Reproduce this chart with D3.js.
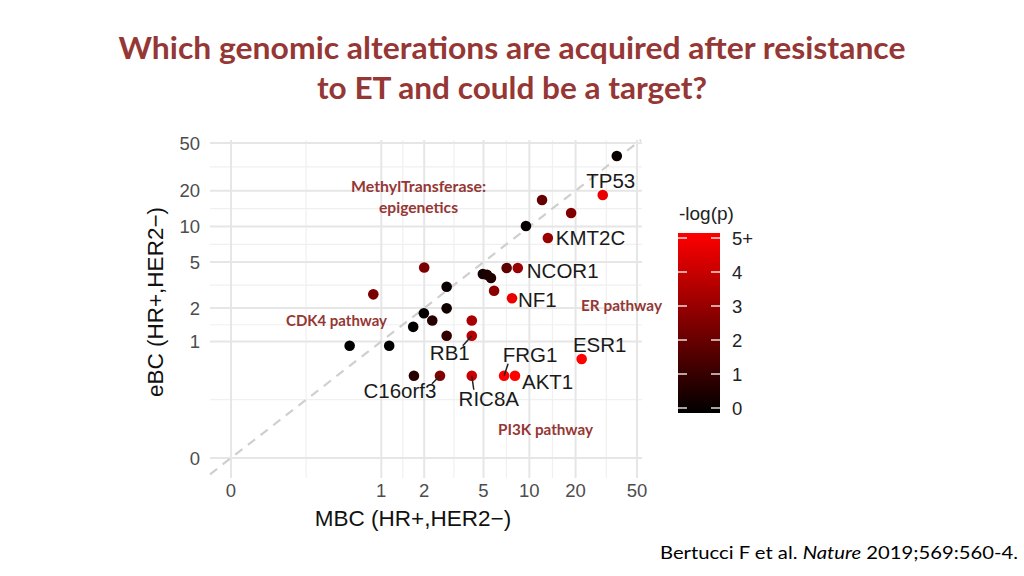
<!DOCTYPE html>
<html><head><meta charset="utf-8">
<script src="https://cdn.jsdelivr.net/npm/d3@7"></script>
<style>body{margin:0;background:#fff}</style>
</head><body>
<svg id="c" width="1024" height="576"></svg>
<script>
// ---------- data ----------
const genes = ["", "TP53", "", "", "", "KMT2C", "", "", "NCOR1", "", "", "", "", "", "NF1", "", "", "", "", "", "", "", "RB1", "", "", "ESR1", "", "C16orf3", "RIC8A", "FRG1", "AKT1"];
const mbc  = [37, 30, 12.1, 18.7, 9.5, 13.2, 2.0, 7.1, 8.4, 4.95, 5.27, 5.6, 2.84, 5.87, 7.7, 0.875, 2.84, 1.99, 2.27, 4.18, 1.68, 2.84, 4.18, 0.58, 1.14, 21.9, 1.70, 2.56, 4.18, 6.83, 8.05];
const ebc  = [39, 18.4, 16.7, 13.0, 10.1, 8.0, 4.5, 4.45, 4.45, 3.95, 3.9, 3.65, 3.07, 2.84, 2.44, 2.64, 1.99, 1.80, 1.55, 1.55, 1.36, 1.13, 1.13, 0.91, 0.91, 0.68, 0.46, 0.46, 0.46, 0.46, 0.46];
const logp = [0.2, 4.6, 2.0, 2.5, 0.15, 3.0, 2.4, 1.8, 3.0, 0.4, 0.5, 0.6, 0.2, 2.7, 4.6, 2.4, 0.3, 0.1, 0.8, 3.3, 0.05, 1.0, 3.6, 0, 0, 5, 0.8, 2.6, 4.0, 5, 5];
const axisTicks = [0, 1, 2, 5, 10, 20, 50];
const legendTicks = [0, 1, 2, 3, 4, 5];
const legendTickLabels = ["0", "1", "2", "3", "4", "5+"];
const titleLines = ["Which genomic alterations are acquired after resistance", "to ET and could be a target?"];
const annotations = ["MethylTransferase:", "epigenetics", "CDK4 pathway", "ER pathway", "PI3K pathway"];

// ---------- layout ----------
const svg = d3.select("#c");
const panel = {left: 210, right: 642, top: 140, bottom: 478};
const x = d3.scaleSymlog().constant(0.12).domain([0, 50]).range([231, 637]);
const y = d3.scaleSymlog().constant(0.12).domain([0, 50]).range([458, 143]);
const color = v => d3.interpolateRgb("#000000", "#ff0000")(Math.min(v, 5) / 5);

const titleColor = "#953735";
const annFont = "Lato, 'Open Sans', sans-serif";

function fitWidth(sel, w) {
  const fs = parseFloat(sel.attr("font-size"));
  const cur = sel.node().getComputedTextLength();
  sel.attr("font-size", fs * w / cur);
}

// Title (condensed to the reference width)
const titleSpec = [{cy: 59, w: 787}, {cy: 99, w: 390}];
titleLines.forEach((t, i) => {
  svg.append("text").attr("x", 512).attr("y", titleSpec[i].cy)
    .attr("text-anchor", "middle").attr("font-family", annFont).attr("font-weight", "bold")
    .attr("font-size", 30).attr("fill", titleColor)
    .attr("textLength", titleSpec[i].w).attr("lengthAdjust", "spacingAndGlyphs").text(t);
});

// grid
const g = svg.append("g");
const minor = [];
for (let i = 0; i < axisTicks.length - 1; i++) minor.push((x(axisTicks[i]) + x(axisTicks[i + 1])) / 2);
const minorY = [];
for (let i = 0; i < axisTicks.length - 1; i++) minorY.push((y(axisTicks[i]) + y(axisTicks[i + 1])) / 2);
g.selectAll(".mx").data(minor).join("line").attr("x1", d => d).attr("x2", d => d)
  .attr("y1", panel.top).attr("y2", panel.bottom).attr("stroke", "#f0f0f0").attr("stroke-width", 1.2);
g.selectAll(".my").data(minorY).join("line").attr("y1", d => d).attr("y2", d => d)
  .attr("x1", panel.left).attr("x2", panel.right).attr("stroke", "#f0f0f0").attr("stroke-width", 1.2);
g.selectAll(".gx").data(axisTicks).join("line").attr("x1", d => x(d)).attr("x2", d => x(d))
  .attr("y1", panel.top).attr("y2", panel.bottom).attr("stroke", "#e6e6e6").attr("stroke-width", 2);
g.selectAll(".gy").data(axisTicks).join("line").attr("y1", d => y(d)).attr("y2", d => y(d))
  .attr("x1", panel.left).attr("x2", panel.right).attr("stroke", "#e6e6e6").attr("stroke-width", 2);

// diagonal y = x
const dStart = Math.max(x.invert(panel.left), y.invert(panel.bottom));
const dEnd = Math.min(x.invert(panel.right), y.invert(panel.top));
svg.append("line").attr("x1", x(dStart)).attr("y1", y(dStart)).attr("x2", x(dEnd)).attr("y2", y(dEnd))
  .attr("stroke", "#cfcfcf").attr("stroke-width", 2.2).attr("stroke-dasharray", "9,7");

// axes tick labels
const tickFont = "'Liberation Sans', Arial, sans-serif";
svg.selectAll(".xt").data(axisTicks).join("text").attr("x", d => x(d)).attr("y", 497)
  .attr("text-anchor", "middle").attr("font-family", tickFont).attr("font-size", 18.5)
  .attr("fill", "#4d4d4d").text(d => d);
svg.selectAll(".yt").data(axisTicks).join("text").attr("x", 200).attr("y", d => y(d) + 6.5)
  .attr("text-anchor", "end").attr("font-family", tickFont).attr("font-size", 18.5)
  .attr("fill", "#4d4d4d").text(d => d);

// axis titles
svg.append("text").attr("x", 413).attr("y", 526).attr("text-anchor", "middle")
  .attr("font-family", tickFont).attr("font-size", 22.5).attr("fill", "#111").text("MBC (HR+,HER2\u2212)");
svg.append("text").attr("transform", "translate(163,302) rotate(-90)").attr("text-anchor", "middle")
  .attr("font-family", tickFont).attr("font-size", 22.5).attr("fill", "#111").text("eBC (HR+,HER2\u2212)");

// points
const pts = genes.map((gname, i) => ({gene: gname, x: mbc[i], y: ebc[i], p: logp[i]}));
svg.append("g").selectAll("circle").data(pts).join("circle")
  .attr("cx", d => x(d.x)).attr("cy", d => y(d.y)).attr("r", 5.3)
  .attr("fill", d => color(d.p));

// gene labels
const labelLayout = {
  TP53: {dx: 8, dy: -14, anchor: "middle"},
  KMT2C: {dx: 8, dy: 0, anchor: "start"},
  NCOR1: {dx: 9, dy: 3, anchor: "start"},
  NF1: {dx: 6, dy: 2, anchor: "start"},
  RB1: {dx: -22, dy: 17, anchor: "middle", lx: -9, ly: 10},
  FRG1: {dx: 26, dy: -21, anchor: "middle", lx: 4, ly: -12},
  ESR1: {dx: 18, dy: -14, anchor: "middle"},
  AKT1: {dx: 7, dy: 6, anchor: "start"},
  C16orf3: {dx: -40, dy: 15, anchor: "middle", lx: -8, ly: 8},
  RIC8A: {dx: 17, dy: 23, anchor: "middle", lx: 2, ly: 14}
};
const lab = pts.filter(d => d.gene);
svg.append("g").selectAll("line").data(lab.filter(d => labelLayout[d.gene].lx !== undefined)).join("line")
  .attr("x1", d => x(d.x)).attr("y1", d => y(d.y))
  .attr("x2", d => x(d.x) + labelLayout[d.gene].lx).attr("y2", d => y(d.y) + labelLayout[d.gene].ly)
  .attr("stroke", "#222").attr("stroke-width", 1.5);
svg.append("g").selectAll("text").data(lab).join("text")
  .attr("x", d => x(d.x) + labelLayout[d.gene].dx).attr("y", d => y(d.y) + labelLayout[d.gene].dy + 7)
  .attr("text-anchor", d => labelLayout[d.gene].anchor)
  .attr("font-family", tickFont).attr("font-size", 20.5).attr("fill", "#1a1a1a").text(d => d.gene);

// annotations
const annSpec = [
  {cx: 418.5, cy: 192, w: 135}, {cx: 418.5, cy: 213, w: 79},
  {cx: 336.5, cy: 326, w: 101}, {cx: 621.5, cy: 311, w: 81}, {cx: 545.5, cy: 435, w: 95}
];
annotations.forEach((t, i) => {
  svg.append("text").attr("x", annSpec[i].cx).attr("y", annSpec[i].cy)
    .attr("text-anchor", "middle").attr("font-family", annFont).attr("font-weight", "bold")
    .attr("font-size", 14.5).attr("fill", titleColor)
    .attr("textLength", annSpec[i].w).attr("lengthAdjust", "spacingAndGlyphs").text(t);
});

// legend
const ly = d3.scaleLinear().domain([0, 5]).range([408, 238]);
const defs = svg.append("defs");
const grad = defs.append("linearGradient").attr("id", "lg").attr("x1", 0).attr("x2", 0).attr("y1", 1).attr("y2", 0);
grad.append("stop").attr("offset", "0%").attr("stop-color", color(0));
grad.append("stop").attr("offset", "100%").attr("stop-color", color(5));
const barL = 678, barR = 720;
svg.append("rect").attr("x", barL).attr("y", ly(5) - 5).attr("width", barR - barL).attr("height", ly(0) - ly(5) + 10)
  .attr("fill", "url(#lg)");
svg.selectAll(".lt1").data(legendTicks).join("line").attr("x1", barL).attr("x2", barL + 9)
  .attr("y1", d => ly(d)).attr("y2", d => ly(d)).attr("stroke", "#fff").attr("stroke-width", 1.3);
svg.selectAll(".lt2").data(legendTicks).join("line").attr("x1", barR - 9).attr("x2", barR)
  .attr("y1", d => ly(d)).attr("y2", d => ly(d)).attr("stroke", "#fff").attr("stroke-width", 1.3);
svg.selectAll(".ll").data(legendTicks).join("text").attr("x", 732).attr("y", d => ly(d) + 7)
  .attr("font-family", tickFont).attr("font-size", 18.5).attr("fill", "#222").text((d, i) => legendTickLabels[i]);
svg.append("text").attr("x", 679).attr("y", 220).attr("font-family", tickFont).attr("font-size", 19)
  .attr("fill", "#222").text("-log(p)");

// citation
const cit = svg.append("text").attr("x", 660).attr("y", 559).attr("font-family", annFont)
  .attr("font-size", 18).attr("fill", "#000")
  .attr("textLength", 358).attr("lengthAdjust", "spacingAndGlyphs");
cit.append("tspan").text("Bertucci F et al. ");
cit.append("tspan").attr("font-style", "italic").text("Nature");
cit.append("tspan").text(" 2019;569:560-4.");
</script>
</body></html>
